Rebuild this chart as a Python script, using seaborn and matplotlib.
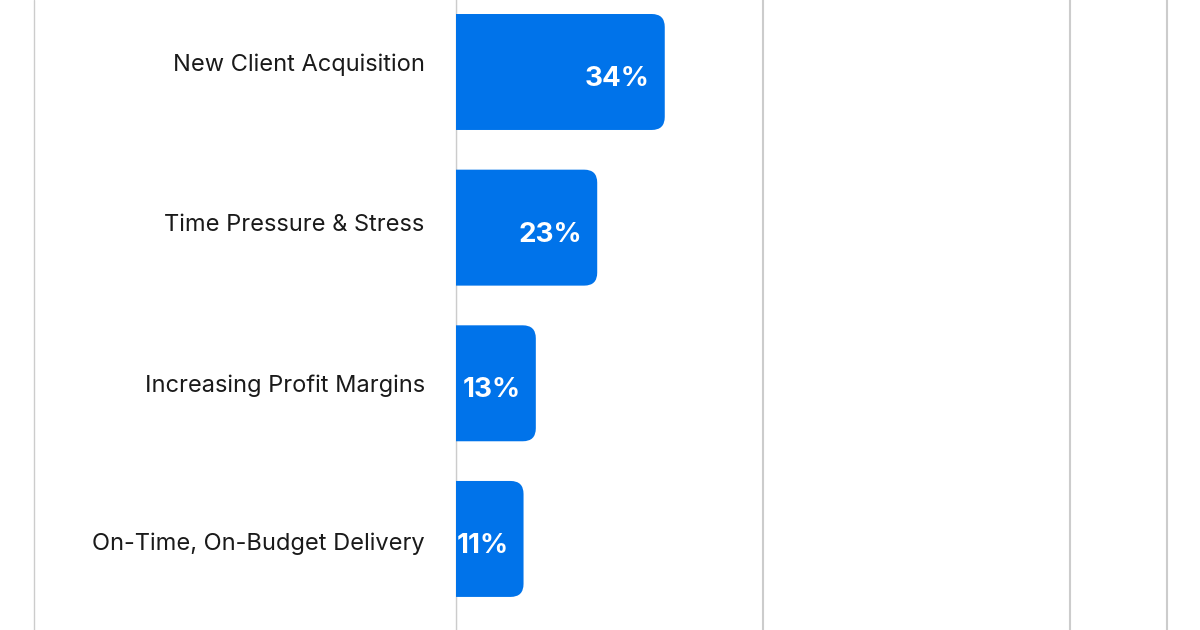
import matplotlib
matplotlib.use("Agg")
import matplotlib.pyplot as plt
import seaborn as sns
import pandas as pd
from matplotlib.patches import FancyBboxPatch

categories = ["New Client Acquisition", "Time Pressure & Stress",
              "Increasing Profit Margins", "On-Time, On-Budget Delivery"]
values = [34, 23, 13, 11]
value_labels = ["34%", "23%", "13%", "11%"]

BLUE = "#0073ea"
GRID = "#cccccc"

sns.set_theme(style="white")
plt.rcParams["font.family"] = ["Inter", "DejaVu Sans"]

df = pd.DataFrame({"category": categories, "value": values})

fig = plt.figure(figsize=(12, 6.3), dpi=100)
ax = fig.add_axes([456 / 1200, 0.0, (1167 - 456) / 1200, 1.0])

sns.barplot(data=df, y="category", x="value", orient="h", color=BLUE,
            width=0.745, saturation=1, ax=ax)

ax.set_xlim(0, 115.8)
ax.set_ylim(3.585, -0.4625)

# rounded right corners
px_per_x = (1167 - 456) / 115.8
px_per_y = 630 / (3.585 + 0.4625)
r_px = 13
rx = r_px / px_per_x
aspect = (r_px / px_per_y) / rx
for p in list(ax.patches):
    x0, y0 = p.get_x(), p.get_y()
    w, h = p.get_width(), p.get_height()
    p.set_visible(False)
    fb = FancyBboxPatch((x0 - 3 * rx, y0), w + 3 * rx, h,
                        boxstyle=f"round,pad=0,rounding_size={rx}",
                        mutation_aspect=aspect, facecolor=BLUE,
                        edgecolor="none", zorder=3, clip_on=True)
    ax.add_patch(fb)

# value labels inside bar ends
for i, (v, lab) in enumerate(zip(values, value_labels)):
    ax.annotate(lab, xy=(v, i), xytext=(-15, -7), textcoords="offset pixels",
                ha="right", va="center", color="white", fontsize=20,
                fontweight="bold", zorder=4)

# gridlines
ax.set_xticks([0, 50, 100])
ax.xaxis.grid(True, color=GRID, linewidth=1.5, zorder=0)
ax.set_axisbelow(True)
ax.tick_params(axis="x", bottom=False, labelbottom=False)

ax.set_yticks([-0.064, 0.968, 2.0, 3.013])
ax.set_yticklabels(categories)
ax.tick_params(axis="y", left=False, pad=16.5, labelsize=17, labelcolor="#1a1a1a")
ax.set_xlabel("")
ax.set_ylabel("")

for s in ["top", "bottom"]:
    ax.spines[s].set_visible(False)
ax.spines["left"].set_color(GRID)
ax.spines["left"].set_linewidth(1)
ax.spines["right"].set_color(GRID)
ax.spines["right"].set_linewidth(1.5)

# outer card border on the left
fig.add_artist(plt.Line2D([33.5 / 1200, 33.5 / 1200], [0, 1], color=GRID,
                          linewidth=1, transform=fig.transFigure))

fig.savefig("out.png", dpi=100)
